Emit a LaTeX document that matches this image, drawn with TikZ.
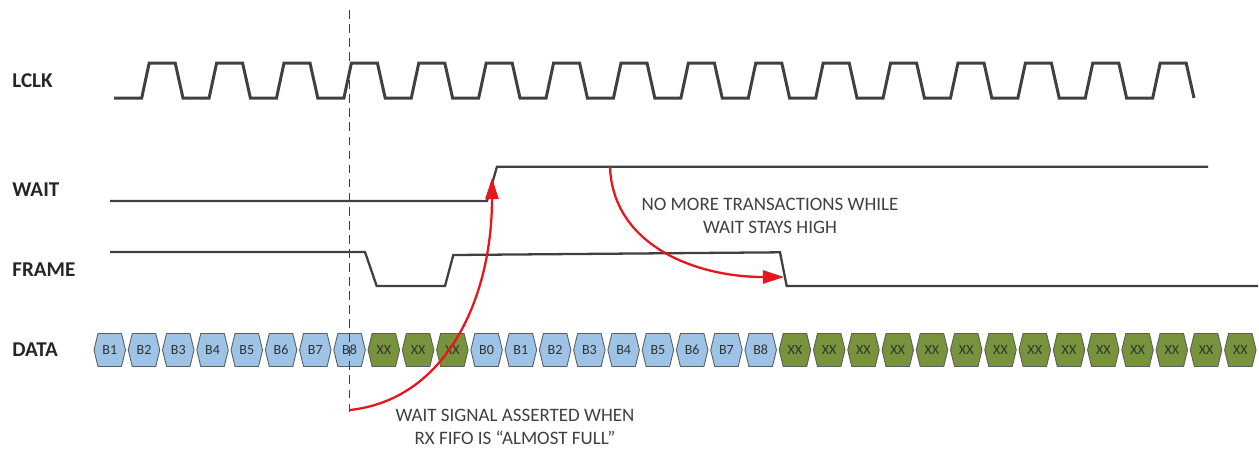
\documentclass[tikz,border=0pt]{standalone}
\usepackage{fontspec}
\setmainfont{Carlito}
\usetikzlibrary{arrows.meta}
\definecolor{grigio}{RGB}{64,64,64}
\definecolor{rosso}{RGB}{232,22,28}
\definecolor{azzurro}{RGB}{157,195,230}
\definecolor{oliva}{RGB}{119,147,60}
\begin{document}
\begin{tikzpicture}[x=0.02cm,y=-0.02cm,>={Triangle[length=12pt,width=7.5pt]},
	segnale/.style={grigio, line width=1.3pt, line join=miter},
	clock/.style={grigio, line width=1.7pt, line join=miter},
	freccia/.style={->, rosso, line width=1.3pt},
	etichetta/.style={font=\bfseries\fontsize{12}{14}\selectfont, text=black!85, anchor=west, inner sep=0pt},
	nota/.style={font=\fontsize{10.8}{13}\selectfont, text=grigio, align=center},
	cella/.style={draw=grigio!85, line width=0.5pt},
	]
	\useasboundingbox (0,0) rectangle (1259,451);
	% ── Parametri ──
	\def\xA{94}\def\dx{34.26}\def\wc{31.5}\def\ind{4}
	\def\yD{350}\def\hc{16.5}
	\def\yL{98}\def\yH{63}\def\Tck{67.4}
	\def\xDash{349.6}
	% ── Cella del bus dati: #1 indice, #2 testo, #3 colore ──
	\def\cella#1#2#3{%
		\pgfmathsetmacro{\xc}{\xA+#1*\dx}
		\draw[cella, fill=#3] (\xc,\yD) -- ++(\ind,-\hc) -- ++(\wc-2*\ind,0) -- ++(\ind,\hc)
			-- ++(-\ind,\hc) -- ++(-\wc+2*\ind,0) -- cycle;
		\node[font=\fontsize{8}{9}\selectfont, text=black!80, inner sep=0pt] (d#1) at (\xc+\wc/2,\yD) {#2};}
	
	% ── Etichette ──
	\node[etichetta] (lclk) at (12,81) {LCLK};
	\node[etichetta] (wait) at (12,190) {WAIT};
	\node[etichetta] (frame) at (12,269.5) {FRAME};
	\node[etichetta] (data) at (12,349.5) {DATA};
	
	% ── Segnali ──
	\draw[clock] (114,\yL) \foreach \k in {0,...,15} {
		-- ({141.7+\Tck*\k},\yL) -- ({149.2+\Tck*\k},\yH) -- ({175.2+\Tck*\k},\yH) -- ({183+\Tck*\k},\yL)};
	\draw[segnale] (110,201) -- (487,201) -- (497,166.7) -- (1208,166.7);
	\draw[segnale] (110,252) -- (365,252) -- (376.7,286) -- (445,286) -- (453.3,255)
		-- (780,252.3) -- (786.7,286) -- (1258,286);
	
	% ── Bus dati ──
	\foreach \i in {0,...,7} {\pgfmathtruncatemacro{\n}{\i+1}\cella{\i}{B\n}{azzurro}}
	\foreach \i in {8,9,10} {\cella{\i}{XX}{oliva}}
	\foreach \i in {11,...,19} {\pgfmathtruncatemacro{\n}{\i-11}\cella{\i}{B\n}{azzurro}}
	\foreach \i in {20,...,33} {\cella{\i}{XX}{oliva}}
	
	\draw[grigio, line width=0.6pt, dash pattern=on 5pt off 3pt] (\xDash,10) -- (\xDash,414);
	
	% ── Frecce e note ──
	\coordinate (assert) at (\xDash,410);
	\coordinate (waitup) at (492,178);
	\coordinate (waithigh) at (610,167);
	\coordinate (framedrop) at (784,277);
	\draw[freccia] (assert) .. controls (445,400) and (492,300) .. (waitup);
	\draw[freccia] (waithigh) .. controls (613,245) and (695,277) .. (framedrop);
	\node[nota] (nota1) at (770,216) {NO MORE TRANSACTIONS WHILE\\WAIT STAYS HIGH};
	\node[nota] (nota2) at (515,427) {WAIT SIGNAL ASSERTED WHEN\\RX FIFO IS “ALMOST FULL”};
\end{tikzpicture}
\end{document}
